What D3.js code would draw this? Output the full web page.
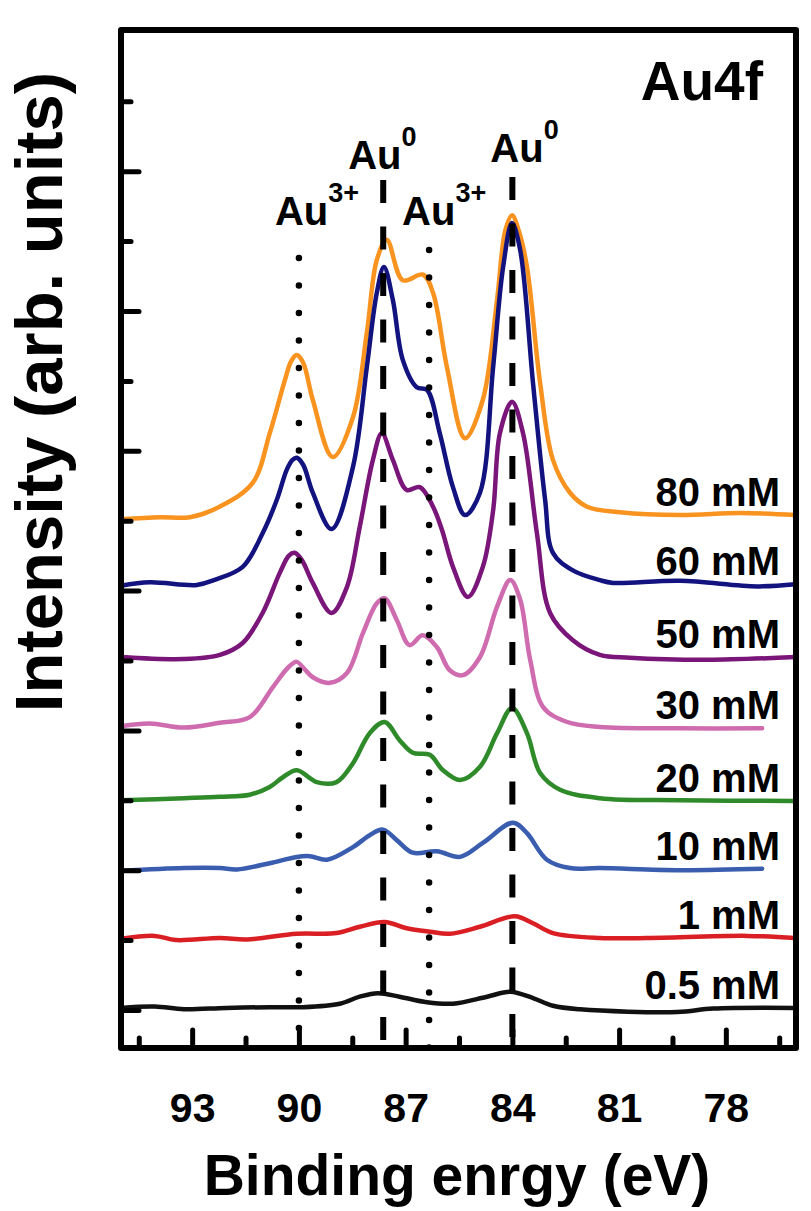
<!DOCTYPE html>
<html>
<head>
<meta charset="utf-8">
<script src="https://cdn.jsdelivr.net/npm/d3@7"></script>
<style>
  body { margin: 0; background: #fff; }
  svg { display: block; font-family: "Liberation Sans", Arial, sans-serif; font-weight: bold; }
</style>
</head>
<body>
<div id="chart"></div>
<script>
// Au4f XPS spectra, [binding energy (eV), intensity (arb. units, offset)]
const conc80 = [[95.0,7.02],[93.91,7.05],[93.06,7.05],[92.23,7.20],[91.30,7.54],[90.82,8.25],[90.40,9.00],[90.22,9.28],[90.06,9.37],[89.88,9.26],[89.61,8.73],[89.05,7.91],[88.48,8.48],[88.09,9.69],[87.81,10.73],[87.53,11.02],[87.08,10.44],[86.51,10.52],[86.23,10.26],[85.84,9.20],[85.33,8.18],[84.83,8.73],[84.43,10.16],[84.20,11.15],[84.01,11.37],[83.82,11.15],[83.59,10.63],[83.22,8.97],[82.86,7.87],[82.38,7.40],[81.90,7.20],[80.97,7.12],[79.28,7.08],[77.59,7.11],[76.05,7.08]];
const conc60 = [[95.0,6.07],[94.19,6.12],[92.87,6.08],[92.39,6.15],[91.58,6.34],[91.02,6.82],[90.62,7.30],[90.34,7.73],[90.18,7.87],[90.06,7.90],[89.88,7.80],[89.61,7.40],[89.08,6.88],[88.48,7.77],[88.09,9.20],[87.81,10.26],[87.61,10.63],[87.36,10.16],[87.08,9.30],[86.69,8.91],[86.40,8.87],[86.04,8.25],[85.67,7.48],[85.33,7.08],[84.91,7.40],[84.54,9.20],[84.26,10.63],[84.01,11.26],[83.78,10.87],[83.42,8.97],[83.08,7.30],[82.86,6.54],[82.30,6.29],[81.54,6.15],[81.17,6.11],[79.29,6.14],[77.12,6.06],[76.05,6.09]];
const conc50 = [[95.0,5.05],[93.23,5.02],[92.22,5.08],[91.58,5.25],[91.02,5.68],[90.54,6.25],[90.28,6.50],[90.12,6.54],[89.92,6.44],[89.61,6.11],[89.08,5.68],[88.65,6.05],[88.29,6.91],[87.92,7.87],[87.67,8.25],[87.36,7.87],[86.97,7.44],[86.60,7.48],[86.23,7.20],[85.98,6.87],[85.67,6.34],[85.25,5.91],[84.83,6.34],[84.54,7.15],[84.35,8.25],[84.01,8.70],[83.70,8.25],[83.31,6.82],[82.94,5.68],[82.30,5.29],[81.54,5.08],[80.70,5.04],[78.53,5.01],[76.05,5.05]];
const conc30 = [[95.0,4.06],[94.19,4.10],[93.23,4.04],[92.22,4.11],[91.38,4.19],[90.73,4.62],[90.30,4.90],[90.06,4.98],[89.85,4.88],[89.61,4.76],[89.13,4.68],[88.65,4.82],[88.20,5.39],[87.81,5.82],[87.59,5.89],[87.25,5.58],[86.89,5.22],[86.52,5.36],[86.12,5.19],[85.76,4.86],[85.39,4.79],[84.91,5.05],[84.43,5.77],[84.06,6.15],[83.78,5.87],[83.50,5.01],[83.13,4.33],[82.46,4.12],[81.54,4.05],[79.29,4.03],[76.98,4.03]];
const conc20 = [[95.0,3.00],[93.23,3.03],[92.22,3.05],[91.38,3.08],[90.82,3.19],[90.45,3.33],[90.06,3.43],[89.50,3.26],[88.94,3.26],[88.48,3.53],[88.01,3.96],[87.59,4.12],[87.17,3.86],[86.80,3.68],[86.32,3.65],[85.95,3.43],[85.47,3.29],[84.91,3.48],[84.43,3.96],[84.01,4.32],[83.59,3.96],[83.22,3.39],[82.66,3.15],[81.54,3.03],[79.29,3.00],[76.10,2.99]];
const conc10 = [[95.0,1.99],[93.23,2.03],[92.22,2.03],[91.74,2.01],[90.82,2.10],[90.06,2.19],[89.69,2.20],[89.21,2.15],[88.48,2.33],[88.01,2.50],[87.64,2.58],[87.25,2.43],[86.80,2.25],[86.12,2.27],[85.47,2.19],[84.83,2.39],[83.98,2.68],[83.59,2.53],[83.03,2.15],[82.38,2.03],[81.54,2.03],[79.29,2.00],[76.98,2.02]];
const conc1 = [[95.0,1.02],[94.05,1.06],[93.46,1.00],[92.22,1.03],[91.46,1.01],[90.06,1.09],[88.94,1.10],[88.29,1.19],[87.59,1.26],[86.97,1.17],[86.32,1.12],[85.76,1.09],[84.91,1.19],[83.93,1.34],[83.42,1.24],[82.86,1.10],[81.54,1.03],[80.21,1.03],[77.40,1.06],[76.05,1.03]];
const conc05 = [[95.0,0.03],[94.05,0.05],[93.23,0.01],[92.05,0.03],[90.82,0.04],[89.89,0.04],[88.85,0.09],[88.29,0.19],[87.78,0.24],[87.17,0.19],[86.40,0.11],[85.67,0.09],[84.71,0.19],[84.06,0.26],[83.42,0.17],[82.86,0.06],[82.10,0.01],[79.37,-0.03],[78.36,0.02],[76.05,0.03]];

const seriesLabels = ["80 mM", "60 mM", "50 mM", "30 mM", "20 mM", "10 mM", "1 mM", "0.5 mM"];
const seriesData = [conc80, conc60, conc50, conc30, conc20, conc10, conc1, conc05];
const seriesColors = ["#f7931e", "#12137f", "#7a1579", "#cf6caf", "#2f8a2a", "#3a5db0", "#da1f24", "#111111"];

// peak positions (eV)
const au0Energies = [87.63, 84.0];
const au3Energies = [90.0, 86.34];
const xTickLabels = [93, 90, 87, 84, 81, 78];

const W = 811, H = 1211;
const frame = { left: 121, right: 796, top: 30, bottom: 1048 };

const x = d3.scaleLinear().domain([95, 76]).range([frame.left, frame.right + 1]);
const y = d3.scaleLinear().domain([-0.544, 14.02]).range([frame.bottom, frame.top]);

const svg = d3.select("#chart").append("svg")
  .attr("width", W)
  .attr("height", H);

svg.append("rect").attr("width", W).attr("height", H).attr("fill", "#fff");

// spectra
const line = d3.line()
  .x((d) => x(d[0]))
  .y((d) => y(d[1]))
  .curve(d3.curveCatmullRom.alpha(0.5));

svg.selectAll(".spectrum")
  .data(seriesData)
  .join("path")
  .attr("class", "spectrum")
  .attr("d", line)
  .attr("fill", "none")
  .attr("stroke", (d, i) => seriesColors[i])
  .attr("stroke-width", 4.5)
  .attr("stroke-linejoin", "round")
  .attr("stroke-linecap", "round");

// series labels, just above the right end of each curve
svg.selectAll(".series-label")
  .data(seriesData)
  .join("text")
  .attr("class", "series-label")
  .attr("x", 780)
  .attr("y", (d) => y(d[d.length - 1][1]) - 9)
  .attr("text-anchor", "end")
  .style("font-size", "40px")
  .text((d, i) => seriesLabels[i]);

// reference lines: Au0 dashed, Au3+ dotted
svg.selectAll(".au0-line")
  .data(au0Energies)
  .join("line")
  .attr("class", "au0-line")
  .attr("x1", (d) => x(d)).attr("x2", (d) => x(d))
  .attr("y1", (d, i) => (i === 0 ? 180 : 177))
  .attr("y2", frame.bottom)
  .attr("stroke", "#000")
  .attr("stroke-width", 6)
  .attr("stroke-dasharray", "23,23.5");

svg.selectAll(".au3-line")
  .data(au3Energies)
  .join("line")
  .attr("class", "au3-line")
  .attr("x1", (d) => x(d)).attr("x2", (d) => x(d))
  .attr("y1", (d, i) => (i === 0 ? 258 : 250))
  .attr("y2", frame.bottom)
  .attr("stroke", "#000")
  .attr("stroke-width", 6.5)
  .attr("stroke-linecap", "round")
  .attr("stroke-dasharray", "0,27.5");

// peak annotations
const annotations = [
  { e: au3Energies[0], dx: -24, baseline: 225, sup: "3+" },
  { e: au0Energies[0], dx: -35, baseline: 169, sup: "0" },
  { e: au3Energies[1], dx: -27, baseline: 225, sup: "3+" },
  { e: au0Energies[1], dx: -22, baseline: 162, sup: "0" },
];
const ann = svg.selectAll(".peak-label")
  .data(annotations)
  .join("text")
  .attr("class", "peak-label")
  .attr("x", (d) => x(d.e) + d.dx)
  .attr("y", (d) => d.baseline)
  .style("font-size", "40px");
ann.append("tspan").text("Au");
ann.append("tspan")
  .attr("dy", -23)
  .style("font-size", "27px")
  .text((d) => d.sup);

// frame
svg.append("rect")
  .attr("x", frame.left)
  .attr("y", frame.top)
  .attr("width", frame.right - frame.left)
  .attr("height", frame.bottom - frame.top)
  .attr("fill", "none")
  .attr("stroke", "#000")
  .attr("stroke-width", 6)
  .attr("stroke-linejoin", "round");

// y ticks (inward, no labels)
function styleTicks(g) {
  g.select(".domain").remove();
  g.selectAll(".tick line")
    .attr("stroke", "#000")
    .attr("stroke-width", 5)
    .attr("stroke-linecap", "round");
}
svg.append("g")
  .attr("transform", `translate(${frame.left},0)`)
  .call(d3.axisRight(y).tickValues([0, 2, 4, 6, 8, 10, 12]).tickSize(18).tickFormat(""))
  .call(styleTicks);
svg.append("g")
  .attr("transform", `translate(${frame.left},0)`)
  .call(d3.axisRight(y).tickValues([1, 3, 5, 7, 9, 11, 13]).tickSize(10).tickFormat(""))
  .call(styleTicks);

// x ticks (inward from bottom)
svg.append("g")
  .attr("transform", `translate(0,${frame.bottom})`)
  .call(d3.axisTop(x).tickValues(xTickLabels).tickSize(18).tickFormat(""))
  .call(styleTicks);
svg.append("g")
  .attr("transform", `translate(0,${frame.bottom})`)
  .call(d3.axisTop(x).tickValues([94.5, 91.5, 88.5, 85.5, 82.5, 79.5, 76.5]).tickSize(10).tickFormat(""))
  .call(styleTicks);

// x tick labels
const xLabels = svg.append("g")
  .attr("transform", `translate(0,${frame.bottom})`)
  .call(d3.axisBottom(x).tickValues(xTickLabels).tickSize(0).tickFormat(d3.format("d")));
xLabels.select(".domain").remove();
xLabels.selectAll("text")
  .attr("y", 74)
  .attr("dy", 0)
  .attr("fill", "#000")
  .style("font-family", "'Liberation Sans', Arial, sans-serif")
  .style("font-weight", "bold")
  .style("font-size", "41px");

// axis titles
svg.append("text")
  .attr("x", 457)
  .attr("y", 1195)
  .attr("text-anchor", "middle")
  .style("font-size", "57px")
  .text("Binding enrgy (eV)");

svg.append("text")
  .attr("transform", "translate(62,392) rotate(-90)")
  .attr("text-anchor", "middle")
  .style("font-size", "67px")
  .text("Intensity (arb. units)");

svg.append("text")
  .attr("x", 763)
  .attr("y", 100)
  .attr("text-anchor", "end")
  .style("font-size", "55px")
  .text("Au4f");
</script>
</body>
</html>
